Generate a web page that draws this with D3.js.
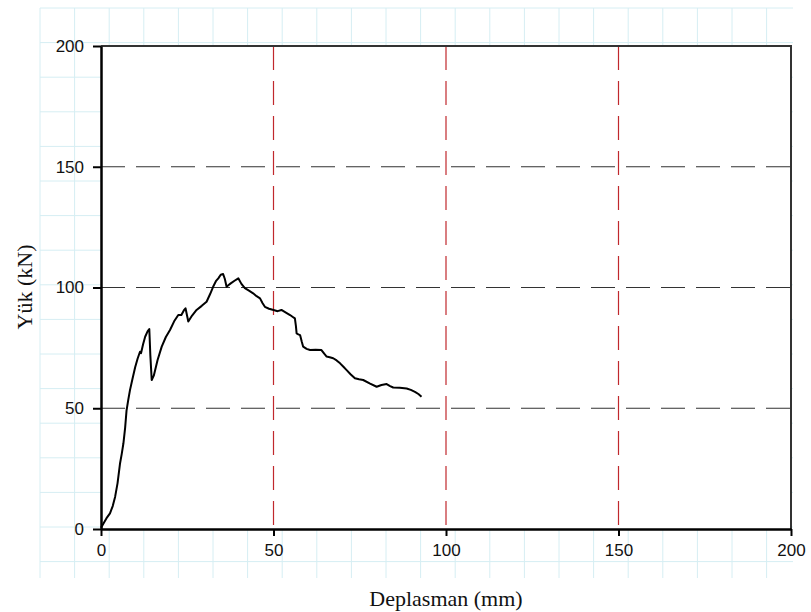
<!DOCTYPE html>
<html>
<head>
<meta charset="utf-8">
<script src="https://cdn.jsdelivr.net/npm/d3@7"></script>
<style>
  body { margin: 0; background: #fff; }
  svg { display: block; }
</style>
</head>
<body>
<svg id="chart"></svg>
<script>
// displacement (mm) and load (kN)
const dispX = [0, 0.8, 1.6, 2.6, 3.4, 4.1, 4.8, 5.5, 6.0, 6.5, 7.0, 7.4, 7.9, 8.4, 9.1, 9.9, 10.6, 11.3, 11.6, 12.2, 12.8, 13.5, 14.0, 14.3, 14.7, 15.3, 16.4, 17.6, 18.8, 20.0, 21.2, 22.4, 23.3, 24.0, 24.5, 25.0, 25.3, 26.4, 27.7, 29.2, 30.6, 31.6, 32.5, 33.3, 34.0, 34.7, 35.4, 35.9, 36.4, 37.0, 37.6, 38.7, 39.8, 40.7, 41.7, 43.0, 44.1, 45.1, 46.1, 46.8, 47.5, 48.7, 50.0, 51.2, 52.3, 53.6, 54.8, 55.6, 56.2, 56.5, 56.7, 57.2, 57.7, 58.2, 58.6, 59.6, 60.6, 62.2, 63.9, 64.7, 65.4, 66.3, 67.3, 68.3, 69.3, 70.2, 71.2, 72.4, 73.6, 74.8, 76.0, 78.0, 79.9, 81.3, 82.8, 83.8, 84.7, 86.6, 88.6, 89.8, 91.0, 92.0, 92.9];
const loadY = [0.5, 2.5, 4.5, 6.5, 9.5, 13.4, 19, 27, 31, 35.5, 42, 49, 53.5, 57.5, 62, 67, 70.5, 73.4, 72.8, 76.5, 79.6, 81.8, 82.8, 72, 61.7, 63.5, 70, 75.5, 79.5, 82.4, 86, 88.6, 88.6, 90.5, 91.4, 88, 85.9, 88.4, 90.7, 92.4, 94.1, 97.2, 100.3, 102.6, 103.8, 105.3, 105.6, 103.5, 100.3, 101, 101.7, 102.8, 103.8, 101.5, 99.7, 98.6, 97.6, 96.4, 95.5, 93.6, 92.0, 91.2, 90.7, 90.2, 90.7, 89.6, 88.6, 87.8, 87.2, 84, 81, 80.6, 80.3, 77.5, 75.5, 74.6, 74.1, 74.2, 74.1, 72.6, 71.4, 71.1, 70.7, 69.8, 68.6, 67.3, 65.8, 64.0, 62.4, 62.0, 61.7, 60.2, 58.9, 59.6, 60.0, 59.2, 58.6, 58.5, 58.2, 57.6, 56.8, 55.9, 54.8];

const xTicks = [0, 50, 100, 150, 200];
const yTicks = [0, 50, 100, 150, 200];
const gridVals = [50, 100, 150];

const W = 811, H = 612;
const plot = {left: 101, right: 791, top: 46, bottom: 529};

const svg = d3.select('#chart')
  .attr('width', W)
  .attr('height', H);

// graph-paper background
const paperStep = 34.6;
const paper = svg.append('g')
  .attr('stroke', '#d6eef3')
  .attr('stroke-width', 1);

paper.selectAll('.vline')
  .data(d3.range(40, 794, paperStep))
  .join('line')
  .attr('x1', d => d).attr('x2', d => d)
  .attr('y1', 8).attr('y2', 578);

paper.selectAll('.hline')
  .data(d3.range(8, 579, paperStep))
  .join('line')
  .attr('y1', d => d).attr('y2', d => d)
  .attr('x1', 40).attr('x2', 793);

const x = d3.scaleLinear()
  .domain([0, 200])
  .range([plot.left, plot.right]);

const y = d3.scaleLinear()
  .domain([0, 200])
  .range([plot.bottom, plot.top]);

// white plot area
svg.append('rect')
  .attr('x', plot.left)
  .attr('y', plot.top)
  .attr('width', plot.right - plot.left)
  .attr('height', plot.bottom - plot.top)
  .attr('fill', '#fff');

// dashed grid lines
svg.append('g')
  .selectAll('line')
  .data(gridVals)
  .join('line')
  .attr('x1', plot.left).attr('x2', plot.right)
  .attr('y1', d => y(d)).attr('y2', d => y(d))
  .attr('stroke', '#333')
  .attr('stroke-width', 1.2)
  .attr('stroke-dasharray', '24,11');

svg.append('g')
  .selectAll('line')
  .data(gridVals)
  .join('line')
  .attr('x1', d => x(d)).attr('x2', d => x(d))
  .attr('y1', plot.top).attr('y2', plot.bottom)
  .attr('stroke', '#c0282d')
  .attr('stroke-width', 1.2)
  .attr('stroke-dasharray', '24,11');

// top/right frame
svg.append('path')
  .attr('d', `M${plot.left},${plot.top}H${plot.right}V${plot.bottom}`)
  .attr('fill', 'none')
  .attr('stroke', '#333')
  .attr('stroke-width', 2);

// curve
const line = d3.line()
  .x((d, i) => x(dispX[i]))
  .y(d => y(d));

svg.append('path')
  .datum(loadY)
  .attr('d', line)
  .attr('fill', 'none')
  .attr('stroke', '#000')
  .attr('stroke-width', 2)
  .attr('stroke-linejoin', 'round');

// axes
const xAxis = svg.append('g')
  .attr('transform', `translate(0,${plot.bottom})`)
  .call(d3.axisBottom(x).tickValues(xTicks).tickSize(7).tickSizeOuter(0).tickPadding(8));

const yAxis = svg.append('g')
  .attr('transform', `translate(${plot.left},0)`)
  .call(d3.axisLeft(y).tickValues(yTicks).tickSize(8).tickSizeOuter(0).tickPadding(9));

[xAxis, yAxis].forEach(ax => {
  ax.select('.domain').attr('stroke', '#000').attr('stroke-width', 2.5);
  ax.selectAll('.tick line').attr('stroke', '#000').attr('stroke-width', 2);
  ax.selectAll('.tick text')
    .attr('fill', '#111')
    .style('font-family', '"Liberation Sans", Arial, sans-serif')
    .style('font-size', '17px');
});

// axis titles
svg.append('text')
  .attr('x', 446)
  .attr('y', 606)
  .attr('text-anchor', 'middle')
  .style('font-family', '"Liberation Serif", "Times New Roman", serif')
  .style('font-size', '22px')
  .attr('fill', '#111')
  .text('Deplasman (mm)');

svg.append('text')
  .attr('transform', 'translate(32,287) rotate(-90)')
  .attr('text-anchor', 'middle')
  .style('font-family', '"Liberation Serif", "Times New Roman", serif')
  .style('font-size', '22px')
  .attr('fill', '#111')
  .text('Yük (kN)');
</script>
</body>
</html>
